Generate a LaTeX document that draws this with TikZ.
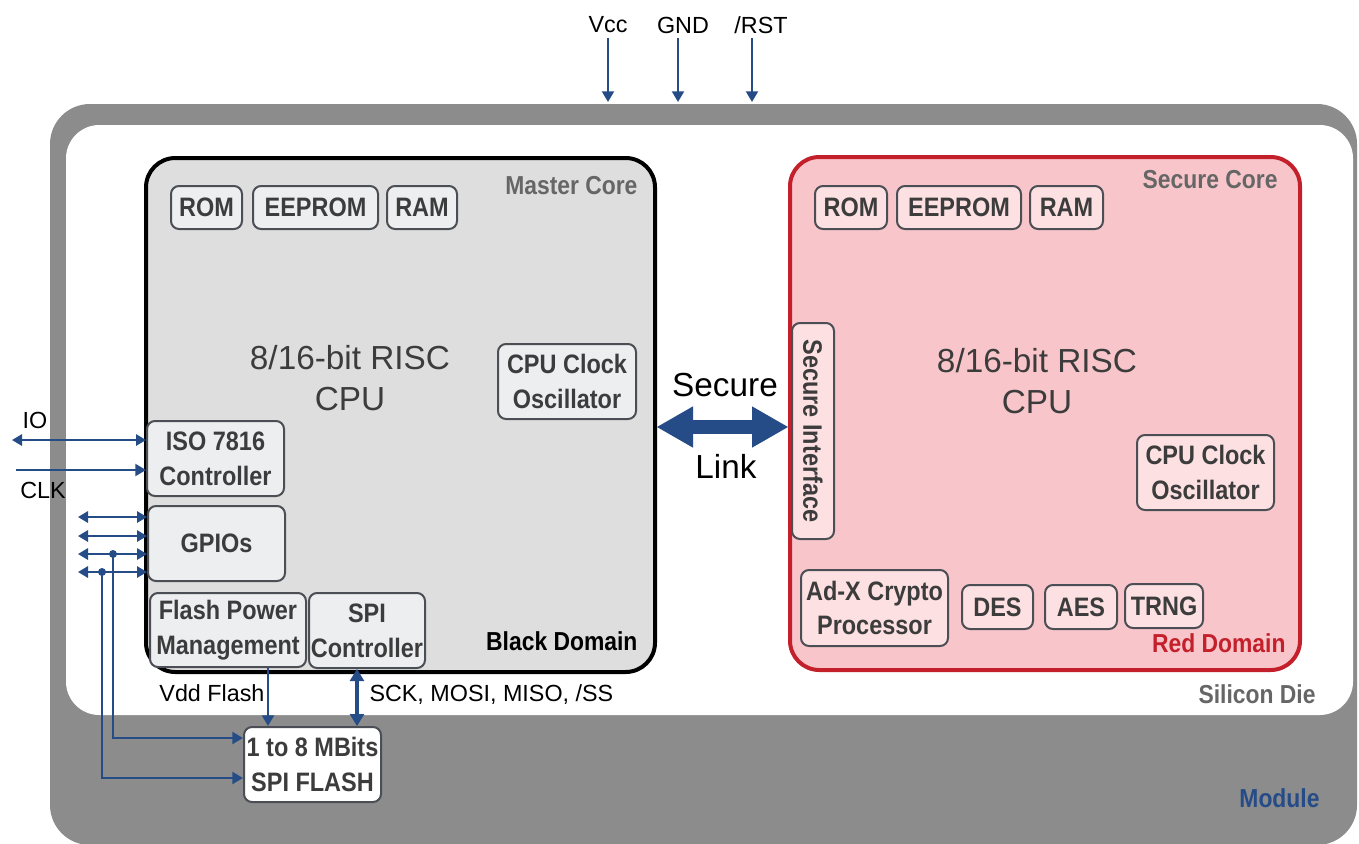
\documentclass[tikz,border=0pt]{standalone}
\usepackage{fontspec}
\setmainfont{Liberation Sans}
\newfontfamily\narrowsf[FakeStretch=0.88]{Liberation Sans}
\usetikzlibrary{arrows.meta,fit,calc}

\definecolor{modgrey}{RGB}{140,140,140}
\definecolor{coregrey}{RGB}{222,222,222}
\definecolor{redline}{RGB}{196,32,43}
\definecolor{redfill}{RGB}{248,198,202}
\definecolor{boxline}{RGB}{75,79,85}
\definecolor{boxfill}{RGB}{236,238,239}
\definecolor{pinkbox}{RGB}{252,224,226}
\definecolor{txtgrey}{RGB}{60,60,60}
\definecolor{lblgrey}{RGB}{102,102,102}
\definecolor{busblue}{RGB}{38,76,135}

\tikzset{every picture/.style={line width=0.75pt}}
\tikzset{
  region/.style={inner sep=0pt, rounded corners=22pt, line width=3pt},
  blk/.style={inner sep=0pt, rounded corners=6pt, draw=boxline, line width=1.5pt, fill=boxfill},
  rblk/.style={blk, fill=pinkbox},
  blktxt/.style={inner sep=0pt, text=txtgrey, font=\narrowsf\bfseries\fontsize{20}{26}\selectfont, align=center},
  title/.style={font=\narrowsf\bfseries\fontsize{19.5}{23}\selectfont, inner sep=0pt},
  sig/.style={font=\fontsize{17.5}{21}\selectfont, inner sep=0pt},
  cpu/.style={font=\fontsize{25}{31}\selectfont, align=center, text=txtgrey, inner sep=0pt},
  bus/.style={draw=busblue, line width=1.5pt},
  pin/.style={-{Triangle[length=8pt,width=9pt]}},
  twopin/.style={{Triangle[length=7.5pt,width=8.5pt]}-{Triangle[length=7.5pt,width=8.5pt]}},
  link/.style={draw=busblue, line width=10.5pt,
    {Triangle[length=27pt,width=31pt,line width=0pt]}-{Triangle[length=27pt,width=31pt,line width=0pt]}}
}

\begin{document}
\begin{tikzpicture}[x=0.75pt,y=0.75pt,yscale=-1,xscale=1]
\useasboundingbox (0,0) rectangle (1359,843);

%Shape: module and silicon die
\node[region, fill=modgrey, rounded corners=30pt, fit={(50,104) (1357,845)}] (module) {};
\node[region, fill=white, rounded corners=25pt, fit={(66,125) (1353,715)}] (die) {};

%Shape: the two cores
\node[region, draw=black, fill=coregrey, fit={(146,158) (655,672)}] (master) {};
\node[region, draw=redline, fill=redfill, fit={(790,157) (1300,670)}] (secure) {};

% Master core blocks
\node[blk, fit={(171,186) (242,229)}, label={[blktxt]center:ROM}] (mrom) {};
\node[blk, fit={(253,186) (378,229)}, label={[blktxt]center:EEPROM}] (meeprom) {};
\node[blk, fit={(387,186) (457,229)}, label={[blktxt]center:RAM}] (mram) {};
\node[blk, fit={(498,344) (636,419)}, label={[blktxt]center:CPU Clock\\Oscillator}] (mosc) {};
\node[blk, fit={(147,421) (284,496)}, label={[blktxt]center:ISO 7816\\Controller}] (iso) {};
\node[blk, fit={(148,506) (285,581)}, label={[blktxt]center:GPIOs}] (gpio) {};
\node[blk, fit={(150,593) (306,667)}, label={[blktxt]center:Flash Power\\Management}] (fpm) {};
\node[blk, fit={(309,593) (425,668)}, label={[blktxt]center:SPI\\Controller}] (spi) {};

% Secure core blocks
\node[rblk, fit={(815,186) (887,229)}, label={[blktxt]center:ROM}] (srom) {};
\node[rblk, fit={(897,186) (1021,229)}, label={[blktxt]center:EEPROM}] (seeprom) {};
\node[rblk, fit={(1030,186) (1103,229)}, label={[blktxt]center:RAM}] (sram) {};
\node[rblk, fit={(792,323) (834,539)}, label={[blktxt, rotate=-90]center:Secure Interface}] (sif) {};
\node[rblk, fit={(1137,435) (1274,510)}, label={[blktxt]center:CPU Clock\\Oscillator}] (sosc) {};
\node[rblk, fit={(801,570) (948,646)}, label={[blktxt]center:Ad-X Crypto\\Processor}] (adx) {};
\node[rblk, fit={(962,585) (1033,629)}, label={[blktxt]center:DES}] (des) {};
\node[rblk, fit={(1045,585) (1117,629)}, label={[blktxt]center:AES}] (aes) {};
\node[rblk, fit={(1125,584) (1203,628)}, label={[blktxt]center:TRNG}] (trng) {};

% External flash
\node[blk, fill=white, fit={(244,727) (381,802)}, label={[blktxt]center:1 to 8 MBits\\SPI FLASH}] (flash) {};

% Text Node
\node[cpu] (mcpu) at (350,378) {8/16-bit RISC\\CPU};
\node[cpu] (scpu) at (1037,381) {8/16-bit RISC\\CPU};
\node[title, text=lblgrey, anchor=base east] (mtitle) at (638,194) {Master Core};
\node[title, text=lblgrey, anchor=base east] (stitle) at (1278,188) {Secure Core};
\node[title, anchor=base east] (black) at (638,650) {Black Domain};
\node[title, text=redline, anchor=base east] (red) at (1286,652) {Red Domain};
\node[title, text=lblgrey, anchor=base east] (dielbl) at (1316,703) {Silicon Die};
\node[title, text=busblue, anchor=base east] (modlbl) at (1320,807) {Module};
\node[font=\fontsize{25}{30}\selectfont] (sec) at (725,385) {Secure};
\node[font=\fontsize{25}{30}\selectfont] (lnk) at (726,466) {Link};

% Secure link
\coordinate (linky) at (0,427);
\draw[link] (master.east |- linky) -- (secure.west |- linky);

% Supply pins
\node[sig] (vcc) at (608,25) {Vcc};
\node[sig] (gnd) at (683,25) {GND};
\node[sig] (rst) at (761,25) {/RST};
\foreach \p/\x in {vcc/608,gnd/678,rst/752} {
  \coordinate (\p pin) at (\x,38);
  \draw[bus,pin] (\p pin) -- (\p pin |- module.north);
}

% IO and CLK
\node[sig] (iolbl) at (35,420) {IO};
\node[sig] (clklbl) at (43,490) {CLK};
\coordinate (iopin) at (12,440);
\coordinate (clkpin) at (16,470);
\draw[bus,twopin] (iopin) -- (iso.west |- iopin);
\draw[bus,pin] (clkpin) -- (iso.west |- clkpin);

% GPIO lines
\foreach \y [count=\i] in {517,536,554,572} {
  \coordinate (g\i) at (78,\y);
  \draw[bus,twopin] (g\i) -- (gpio.west |- g\i);
}
\coordinate (tap3) at (113,554);
\coordinate (tap4) at (102,572);
\fill[busblue] (tap3) circle (3pt) (tap4) circle (3pt);
\draw[bus,pin] (tap3) |- (flash.west |- 0,738);
\draw[bus,pin] (tap4) |- (flash.west |- 0,778);

% Flash supply and SPI bus
\draw[bus,pin] (fpm.south -| 268,0) -- (flash.north -| 268,0);
\draw[draw=busblue, line width=3.5pt, {Triangle[length=9pt,width=11pt,line width=0pt]}-{Triangle[length=9pt,width=11pt,line width=0pt]}]
  (spi.south -| 357,0) -- (flash.north -| 357,0);
\node[sig, anchor=base east] (vddlbl) at (265,701) {Vdd Flash};
\node[sig, anchor=base west] (spilbl) at (369,701) {SCK, MOSI, MISO, /SS};

\end{tikzpicture}
\end{document}
